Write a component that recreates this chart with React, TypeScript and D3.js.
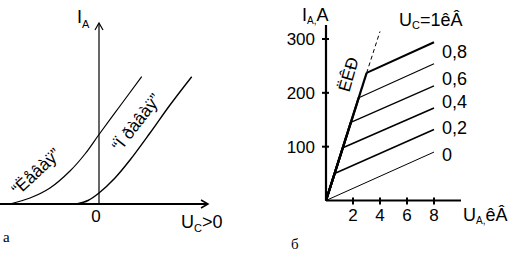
import React from "react";
import * as d3 from "d3";

// Left panel (a): two grid characteristics, arbitrary units
const leftCurveX = [-4.45, -3.45, -2.45, -1.45, -0.7, 0, 1.05, 2.135];
const leftCurveY = [0, 0.3, 0.8, 1.65, 2.5, 3.475, 4.9, 6.365];
const rightCurveX = [-1.115, -0.55, 0, 0.8, 1.55, 2.55, 3.55, 4.635];
const rightCurveY = [0, 0.175, 0.55, 1.3, 2.2, 3.55, 4.95, 6.365];
const leftLabels = ["“Ëåâàÿ”", "“Ï ðàâàÿ”"];

// Right panel (б): anode characteristics
const ucValues = ["0", "0,2", "0,4", "0,6", "0,8"];
const kneeUa = [0, 0.64, 1.25, 1.84, 2.43, 3.01];
const kneeIa = [0, 50, 98, 145, 191, 237];
const endUa = [8, 8, 8, 8, 8, 8];
const endIa = [90, 132, 172, 213, 254, 294];
const critEndUa = 4.0;
const critEndIa = 314;
const xTicks = [2, 4, 6, 8];
const yTicks = [100, 200, 300];

const font = "'Liberation Sans', Arial, sans-serif";
const serif = "'Liberation Serif', 'Times New Roman', serif";

export default function App() {
  const xL = d3.scaleLinear().domain([-4.95, 5.45]).range([0, 208]);
  const yL = d3.scaleLinear().domain([0, 9.05]).range([204, 23]);
  const lineL = d3
    .line<[number, number]>()
    .x((d) => xL(d[0]))
    .y((d) => yL(d[1]))
    .curve(d3.curveCatmullRom);
  const leftPts = leftCurveX.map((x, i) => [x, leftCurveY[i]] as [number, number]);
  const rightPts = rightCurveX.map((x, i) => [x, rightCurveY[i]] as [number, number]);

  const xR = d3.scaleLinear().domain([0, 10]).range([326, 461]);
  const yR = d3.scaleLinear().domain([0, 326]).range([200.5, 25]);

  const widths = [1, 1.6, 1.6, 1.3, 1.1, 2];
  const labelBaselines = [161, 134, 108, 85, 58];

  return (
    <svg
      width={511}
      height={257}
      style={{ position: "absolute", left: 0, top: 0, background: "#fff" }}
      fontFamily={font}
    >
      <rect width={511} height={257} fill="#fff" />
      {/* ---------- left panel ---------- */}
      <g stroke="#000" fill="none">
        <line x1={xL(-4.95)} x2={xL(5.4)} y1={yL(0)} y2={yL(0)} strokeWidth={2.2} />
        <path
          d={`M${xL(5.45) - 7},${yL(0) - 4} L${xL(5.45)},${yL(0)} L${xL(5.45) - 7},${yL(0) + 4}`}
          strokeWidth={1.5}
        />
        <line x1={xL(0)} x2={xL(0)} y1={yL(0)} y2={yL(9.0)} strokeWidth={1.2} />
        <path
          d={`M${xL(0) - 4},${yL(9.05) + 7} L${xL(0)},${yL(9.05)} L${xL(0) + 4},${yL(9.05) + 7}`}
          strokeWidth={1.2}
        />
        <path d={lineL(leftPts) || ""} strokeWidth={1.2} />
        <path d={lineL(rightPts) || ""} strokeWidth={1.4} />
      </g>
      <text x={77} y={23} fontSize={18}>
        I<tspan fontSize={11} dy={5}>A</tspan>
      </text>
      <text x={xL(0) - 3} y={222} fontSize={17} textAnchor="middle">0</text>
      <text x={181} y={228} fontSize={18}>
        U<tspan fontSize={11} dy={4}>C</tspan>
        <tspan dy={-4}>&gt;0</tspan>
      </text>
      <text x={3} y={242} fontSize={15} fontFamily={serif}>a</text>
      <text
        transform="translate(40,176) rotate(-43)"
        fontSize={17}
        textAnchor="middle"
      >
        {leftLabels[0]}
      </text>
      <text
        transform="translate(141,126) rotate(-52)"
        fontSize={17}
        textAnchor="middle"
      >
        {leftLabels[1]}
      </text>

      {/* ---------- right panel ---------- */}
      <g stroke="#000" fill="none">
        {kneeUa.map((k, i) => (
          <g key={i}>
            {i > 0 && (
              <line
                x1={xR(0)}
                y1={yR(0)}
                x2={xR(k)}
                y2={yR(kneeIa[i])}
                strokeWidth={2.2}
              />
            )}
            <line
              x1={xR(k)}
              y1={yR(kneeIa[i])}
              x2={xR(endUa[i])}
              y2={yR(endIa[i])}
              strokeWidth={widths[i]}
            />
          </g>
        ))}
        <line
          x1={xR(kneeUa[5])}
          y1={yR(kneeIa[5])}
          x2={xR(critEndUa)}
          y2={yR(critEndIa)}
          strokeWidth={1}
          strokeDasharray="4,3"
        />
        <line x1={xR(0)} x2={xR(10)} y1={yR(0)} y2={yR(0)} strokeWidth={2.2} />
        <line x1={xR(0)} x2={xR(0)} y1={yR(0)} y2={yR(326)} strokeWidth={2.2} />
        {xTicks.map((t) => (
          <line key={t} x1={xR(t)} x2={xR(t)} y1={yR(0) - 3} y2={yR(0) + 4} strokeWidth={2} />
        ))}
        {yTicks.map((t) => (
          <line key={t} x1={xR(0) - 4} x2={xR(0) + 3} y1={yR(t)} y2={yR(t)} strokeWidth={2} />
        ))}
      </g>
      {xTicks.map((t) => (
        <text key={t} x={xR(t)} y={221} fontSize={17} textAnchor="middle">
          {t}
        </text>
      ))}
      {yTicks.map((t) => (
        <text key={t} x={315} y={yR(t) + 6} fontSize={17} textAnchor="end">
          {t}
        </text>
      ))}
      {ucValues.map((v, i) => (
        <text key={v} x={442} y={labelBaselines[i]} fontSize={18}>
          {v}
        </text>
      ))}
      <text x={399} y={26} fontSize={18}>
        U<tspan fontSize={11} dy={3}>C</tspan>
        <tspan dy={-3}>=1êÂ</tspan>
      </text>
      <text x={302} y={21} fontSize={18}>
        I<tspan fontSize={10} dy={3}>A,</tspan>
        <tspan dy={-3}>A</tspan>
      </text>
      <text x={463} y={221} fontSize={18}>
        U<tspan fontSize={10} dy={3}>A,</tspan>
        <tspan dy={-3}>êÂ</tspan>
      </text>
      <text x={291} y={249} fontSize={15} fontFamily={serif}>б</text>
      <text
        transform="translate(354,76) rotate(-74)"
        fontSize={17}
        textAnchor="middle"
      >
        ËÊÐ
      </text>
    </svg>
  );
}
